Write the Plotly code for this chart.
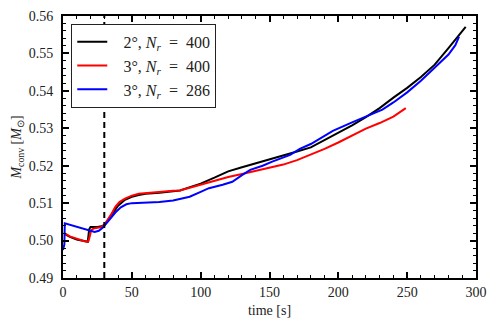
import plotly.graph_objects as go

# --- data ---
t_2deg_400 = [1, 5, 10, 15, 18, 19, 20, 25, 28, 30, 33, 36, 40, 45, 50, 55, 60, 70, 80, 85, 90,
              100, 110, 120, 130, 140, 150, 160, 170, 180, 190, 200, 210, 220, 230, 240, 250,
              260, 270, 280, 285, 290, 292.5]
m_2deg_400 = [0.5018, 0.5010, 0.5003, 0.4999, 0.4997, 0.5030, 0.5036, 0.5036, 0.5038, 0.5042,
              0.5055, 0.5072, 0.5093, 0.5109, 0.5117, 0.5122, 0.5125, 0.5128, 0.5132, 0.5134,
              0.5140, 0.5152, 0.5168, 0.5185, 0.5196, 0.5206, 0.5216, 0.5227, 0.5238, 0.5249,
              0.5268, 0.5288, 0.5308, 0.5330, 0.5354, 0.5382, 0.5408, 0.5437, 0.5470, 0.5514,
              0.5537, 0.5558, 0.5571]

t_3deg_400 = [0.5, 2, 5, 10, 15, 17.5, 18.5, 19.5, 20.5, 22, 25, 28, 30, 32, 35, 38, 41, 45, 50,
              55, 60, 70, 80, 85, 90, 100, 110, 120, 130, 140, 150, 160, 170, 180, 190, 200,
              210, 220, 230, 240, 249]
m_3deg_400 = [0.5020, 0.5018, 0.5011, 0.5004, 0.4999, 0.4997, 0.4999, 0.5012, 0.5028, 0.5032,
              0.5033, 0.5036, 0.5042, 0.5052, 0.5070, 0.5090, 0.5103, 0.5112, 0.5120, 0.5125,
              0.5127, 0.5129, 0.5133, 0.5134, 0.5139, 0.5150, 0.5161, 0.5170, 0.5178, 0.5186,
              0.5195, 0.5203, 0.5215, 0.5229, 0.5245, 0.5262, 0.5281, 0.5299, 0.5314, 0.5331,
              0.5354]

t_3deg_286 = [0, 1, 1.3, 5, 10, 15, 20, 23, 26, 29, 32, 35, 38, 42, 46, 50, 60, 70, 80, 87, 92,
              100, 106, 116, 123, 130, 136, 145, 152, 165, 172, 180, 190, 196, 210, 220, 232,
              240, 250, 260, 270, 280, 285, 287.7]
m_3deg_286 = [0.4975, 0.4990, 0.5046, 0.5042, 0.5036, 0.5030, 0.5026, 0.5023, 0.5026, 0.5035,
              0.5048, 0.5062, 0.5075, 0.5089, 0.5097, 0.5100, 0.5101, 0.5103, 0.5107, 0.5112,
              0.5117, 0.5130, 0.5140, 0.5149, 0.5157, 0.5175, 0.5189, 0.5200, 0.5211, 0.5229,
              0.5245, 0.5258, 0.5279, 0.5293, 0.5316, 0.5331, 0.5350, 0.5369, 0.5396, 0.5427,
              0.5462, 0.5497, 0.5522, 0.5545]

t_marker = 30
x_range = [0, 300]
y_range = [0.49, 0.56]

FONT = "Liberation Serif"
SP = "\u2002"
LEAD = "\u2002\u2009"

fig = go.Figure()
fig.add_trace(go.Scatter(x=t_2deg_400, y=m_2deg_400, mode="lines",
                         line=dict(color="black", width=2),
                         name=f"{LEAD}2°, <i>N<sub>r</sub></i>{SP}={SP}400"))
fig.add_trace(go.Scatter(x=t_3deg_400, y=m_3deg_400, mode="lines",
                         line=dict(color="red", width=2),
                         name=f"{LEAD}3°, <i>N<sub>r</sub></i>{SP}={SP}400"))
fig.add_trace(go.Scatter(x=t_3deg_286, y=m_3deg_286, mode="lines",
                         line=dict(color="blue", width=2),
                         name=f"{LEAD}3°, <i>N<sub>r</sub></i>{SP}={SP}286"))

fig.add_vline(x=t_marker, line=dict(color="black", width=2, dash="6px,4px"))

axis_common = dict(showline=True, linewidth=2, linecolor="black", mirror="allticks",
                   ticks="inside", ticklen=6, tickwidth=1.5, tickcolor="black",
                   showgrid=False, zeroline=False,
                   tickfont=dict(family=FONT, size=14, color="#222"))

fig.update_xaxes(range=x_range, dtick=50, tick0=0,
                 minor=dict(dtick=10, ticks="inside", ticklen=3, tickwidth=1, tickcolor="black"),
                 title=dict(text="time [s]", font=dict(family=FONT, size=14, color="#222"),
                            standoff=6),
                 **axis_common)
fig.update_yaxes(range=y_range, dtick=0.01, tick0=0.49, tickformat=".2f",
                 ticklabelstandoff=5,
                 minor=dict(dtick=0.002, ticks="inside", ticklen=3, tickwidth=1, tickcolor="black"),
                 title=dict(text="<i>M</i><sub>conv</sub> [<i>M</i><sub>⊙</sub>]",
                            font=dict(family=FONT, size=14, color="#222"), standoff=4),
                 **axis_common)

# The page body adds an 8px offset, so the figure is drawn 8px smaller.
fig.update_layout(
    width=490, height=322,
    margin=dict(l=55, r=22, t=8, b=52, autoexpand=False),
    paper_bgcolor="white", plot_bgcolor="white",
    font=dict(family=FONT, size=14, color="#222"),
    showlegend=True,
    legend=dict(x=0.02, y=0.97, xanchor="left", yanchor="top",
                bgcolor="white", bordercolor="#222", borderwidth=1,
                font=dict(family=FONT, size=16, color="#222"),
                tracegroupgap=0),
)

fig.write_html("out.html")
